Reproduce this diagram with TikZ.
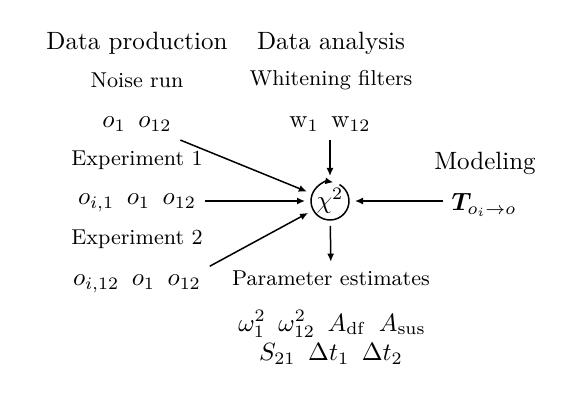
\documentclass[tikz,border=0pt]{standalone}
\usepackage{amsmath,amssymb,bm}
\usetikzlibrary{arrows.meta}

\begin{document}
\begin{tikzpicture}[x=0.4pt,y=0.4pt,>={Latex[length=3.2pt,width=2.8pt]},
  title/.style={font=\normalsize},
  label/.style={font=\fontsize{8.6}{10.5}\selectfont},
  est/.style={inner sep=1pt},
  flow/.style={->,semithick}]
\useasboundingbox (0,0) rectangle (581,-411);
% ---- data production ----
\node[title] (prod) at (137,-43) {Data production};
\node[label] (noise) at (137,-80) {Noise run};
\node (noisedata) at (137,-124) {$o_1\enspace o_{12}$};
\node[label] (exp1) at (137,-160) {Experiment 1};
\node (exp1data) at (137,-203) {$o_{i,1}\enspace o_1\enspace o_{12}$};
\node[label] (exp2) at (137,-239) {Experiment 2};
\node (exp2data) at (137,-284) {$o_{i,12}\enspace o_1\enspace o_{12}$};
% ---- data analysis ----
\node[title] (ana) at (331,-43) {Data analysis};
\node[label] (whiten) at (331,-80) {Whitening filters};
\node (wdata) at (330,-124) {$\mathrm{w}_1\enspace\mathrm{w}_{12}$};
\node[circle,minimum size=15.2pt,inner sep=0pt,outer sep=2.4pt] (chi) at (330,-201) {$\chi^2$};
\draw[semithick,->] (chi.center) ++(60:7.6pt) arc[start angle=60,end angle=-280,radius=7.6pt];
\node[label] (params) at (331,-278) {Parameter estimates};
\node[est] (est1) at (332,-324) {$\omega_1^2\enspace\omega_{12}^2\enspace A_{\mathrm{df}}\enspace A_{\mathrm{sus}}$};
\node[est] (est2) at (331,-354) {$S_{21}\enspace\Delta t_1\enspace\Delta t_2$};
% ---- modeling ----
\node[title] (model) at (485,-163) {Modeling};
\node (tdata) at (484,-205) {$\bm{T}_{o_i\to o}$};
% ---- arrows ----
\draw[flow] (noisedata.south east) -- (chi);
\draw[flow] (exp1data.east |- chi) -- (chi);
\draw[flow] (exp2data.north east) -- (chi);
\draw[flow] (wdata) -- (chi);
\draw[flow] (tdata.west |- chi) -- (chi);
\draw[flow] (chi) -- (params);
\end{tikzpicture}
\end{document}
